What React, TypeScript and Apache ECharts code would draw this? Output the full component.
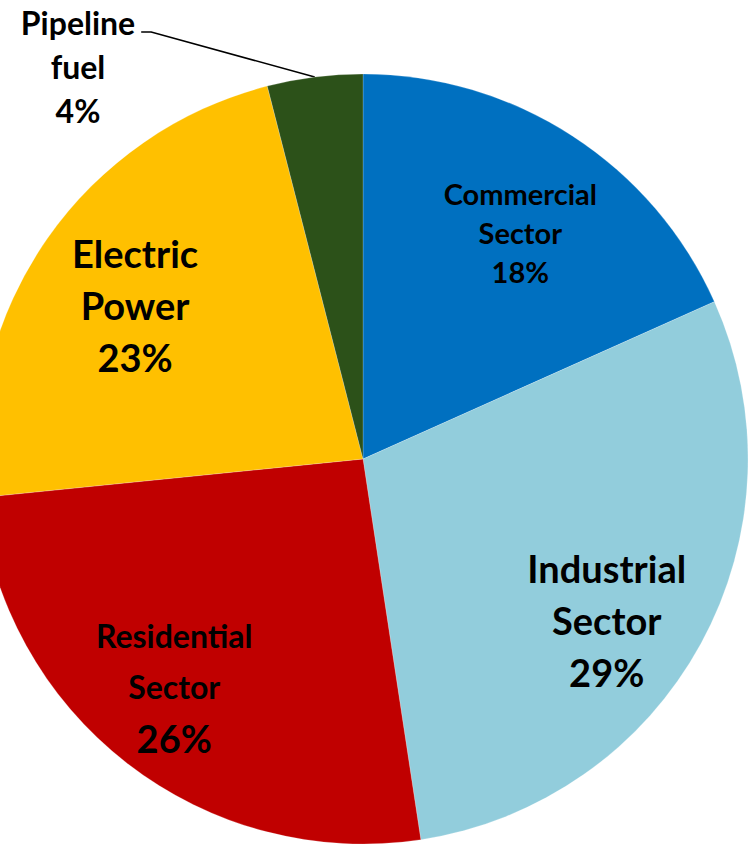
import React, { useEffect, useRef } from 'react';
import * as echarts from 'echarts';

// sectors, clockwise from 12 o'clock
const sectors = ['Commercial\nSector', 'Industrial\nSector', 'Residential\nSector', 'Electric\nPower', 'Pipeline\nfuel'];
const shares = [18.3, 29.3, 25.8, 22.6, 4.0];
const colors = ['#0070C0', '#92CDDC', '#C00000', '#FFC000', '#2C5119'];

// label style per slice: name size, percent size, line height, distance from centre, angle nudge
const nameSize = [29, 38, 32, 38, 32];
const pctSize = [29, 38, 38, 38, 32];
const lineH = [39, 52, 51, 52, 44];
const labelRadius = [276, 292, 296, 275, 0];
const labelTurn = [1.8, 4.8, 2.1, -0.9, 0];

const CX = 363;
const CY = 459;
const R = 385;

const App: React.FC = () => {
  const chartRef = useRef<HTMLDivElement>(null);

  useEffect(() => {
    if (!chartRef.current) return;
    const chart = echarts.init(chartRef.current, undefined, { renderer: 'svg' });

    const data = sectors.map((name, i) => {
      const rich: Record<string, any> = {
        n: { fontSize: nameSize[i], lineHeight: lineH[i], fontWeight: 'bold', color: '#000' },
        p: { fontSize: pctSize[i], lineHeight: lineH[i], fontWeight: 'bold', color: '#000' },
      };
      const isOutside = i === sectors.length - 1;
      return {
        name,
        value: shares[i],
        itemStyle: { color: colors[i] },
        label: {
          position: isOutside ? 'outside' : 'inside',
          rich,
        },
        labelLine: isOutside
          ? { show: true, lineStyle: { color: '#000', width: 1.5 } }
          : { show: false },
      };
    });

    const option: echarts.EChartsOption = {
      animation: false,
      backgroundColor: '#fff',
      textStyle: { fontFamily: 'Lato, "Noto Sans", sans-serif' },
      series: [
        {
          type: 'pie',
          center: [CX, CY],
          radius: [0, R],
          startAngle: 90,
          clockwise: true,
          avoidLabelOverlap: false,
          itemStyle: { borderWidth: 0.5, borderColor: 'rgba(255,255,255,0.4)' },
          label: {
            show: true,
            fontFamily: 'Lato, "Noto Sans", sans-serif',
            align: 'center',
            formatter: (p: any) => {
              const lines = String(p.name).split('\n').map((s: string) => `{n|${s}}`);
              return [...lines, `{p|${Math.round(p.percent)}%}`].join('\n');
            },
          },
          labelLine: { length: 30, length2: 10 },
          labelLayout: (params: any) => {
            const i = params.dataIndex;
            const rect = params.labelRect;
            const lx = rect.x + rect.width / 2;
            const ly = rect.y + rect.height / 2;
            if (labelRadius[i] > 0) {
              // angle measured clockwise from 12 o'clock
              const a = Math.atan2(lx - CX, CY - ly) + (labelTurn[i] * Math.PI) / 180;
              return {
                x: CX + labelRadius[i] * Math.sin(a),
                y: CY - labelRadius[i] * Math.cos(a),
                align: 'center',
                verticalAlign: 'middle',
              };
            }
            // pipeline fuel: label up in the top-left corner with an angled leader
            const start = params.labelLinePoints ? params.labelLinePoints[0] : [315, 77];
            const tx = 78;
            const ty = 66;
            const right = tx + rect.width / 2;
            const lineY = ty - lineH[i] + 10;
            return {
              x: tx,
              y: ty,
              align: 'center',
              verticalAlign: 'middle',
              labelLinePoints: [start, [right + 16, lineY], [right + 6, lineY]],
            };
          },
          data,
        },
      ],
    };

    chart.setOption(option);
    return () => chart.dispose();
  }, []);

  return (
    <div
      ref={chartRef}
      style={{ position: 'fixed', left: 0, top: 0, width: '753px', height: '844px' }}
    />
  );
};

export default App;
